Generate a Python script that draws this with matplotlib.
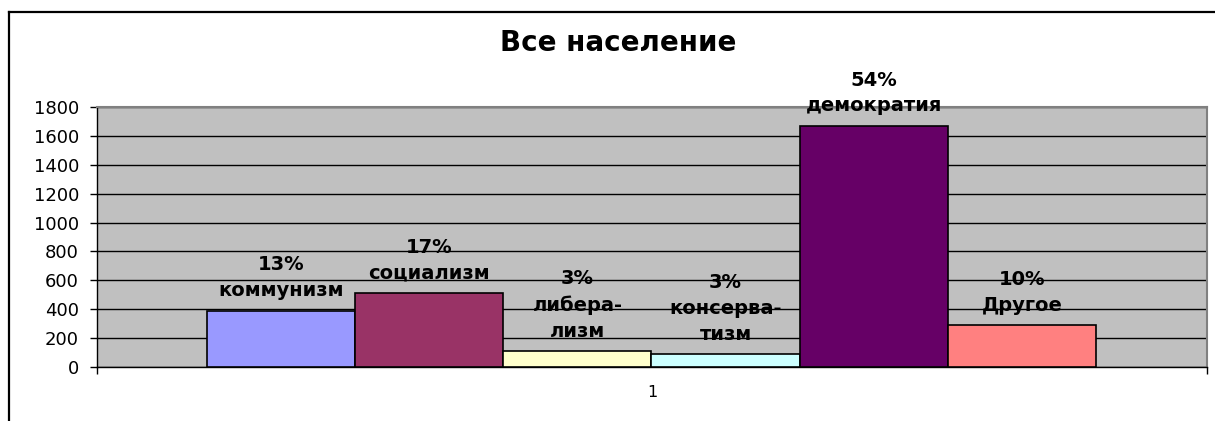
import matplotlib
matplotlib.use("Agg")
import matplotlib.pyplot as plt
from matplotlib.lines import Line2D

# data
categories = ["коммунизм", "социализм", "либера-\nлизм", "консерва-\nтизм", "демократия", "Другое"]
values = [390, 510, 111, 88, 1670, 289]
percents = ["13%", "17%", "3%", "3%", "54%", "10%"]
colors = ["#9999FF", "#993366", "#FFFFCC", "#CCFFFF", "#660066", "#FF8080"]
y_ticks = [0, 200, 400, 600, 800, 1000, 1200, 1400, 1600, 1800]
x_label = "1"
title = "Все население"

plt.rcParams['font.family'] = ['DejaVu Sans']

fig = plt.figure(figsize=(12.15, 4.21), dpi=100)
ax = fig.add_axes([97 / 1215, 1 - 367 / 421, 1110 / 1215, 260 / 421])
ax.set_facecolor("#C0C0C0")

x = list(range(len(values)))
bars = ax.bar(x, values, width=1.0, color=colors, edgecolor="black", linewidth=1.2, zorder=3)

# two-line labels above each bar
for b, p, c in zip(bars, percents, categories):
    ax.annotate(f"{p}\n{c}", (b.get_x() + b.get_width() / 2, b.get_height()),
                xytext=(0, 7.5), textcoords="offset points", ha="center", va="bottom",
                fontsize=14, fontweight="bold", linespacing=1.45, zorder=4,
                annotation_clip=False)

xmin, xmax = -1.243, 6.25
ax.set_xlim(xmin, xmax)
ax.set_ylim(0, 1800)
ax.set_yticks(y_ticks)
ax.tick_params(axis="y", labelsize=13, length=5, width=1, colors="black", pad=8)
ax.set_xticks([xmin, xmax])
ax.set_xticklabels(["", ""])
ax.tick_params(axis="x", length=5, width=1)
ax.set_xticks([(xmin + xmax) / 2], minor=True)
ax.set_xticklabels([x_label], minor=True)
ax.tick_params(axis="x", which="minor", length=0, labelsize=11.5, pad=13)

ax.grid(axis="y", color="black", linewidth=1, zorder=1)
ax.set_axisbelow(True)
for side in ["top", "right"]:
    ax.spines[side].set_color("#808080")
    ax.spines[side].set_linewidth(1.5)
for side in ["left", "bottom"]:
    ax.spines[side].set_color("black")
    ax.spines[side].set_linewidth(1)

fig.text(618 / 1215, 1 - 43 / 421, title, ha="center", va="center",
         fontsize=20, fontweight="bold")

# outer frame (top and left edges only)
fig.add_artist(Line2D([9 / 1215, 1], [1 - 12 / 421, 1 - 12 / 421], color="black", linewidth=1.6))
fig.add_artist(Line2D([9 / 1215, 9 / 1215], [1 - 12 / 421, 0], color="black", linewidth=1.6))

fig.savefig("out.png", dpi=100)
